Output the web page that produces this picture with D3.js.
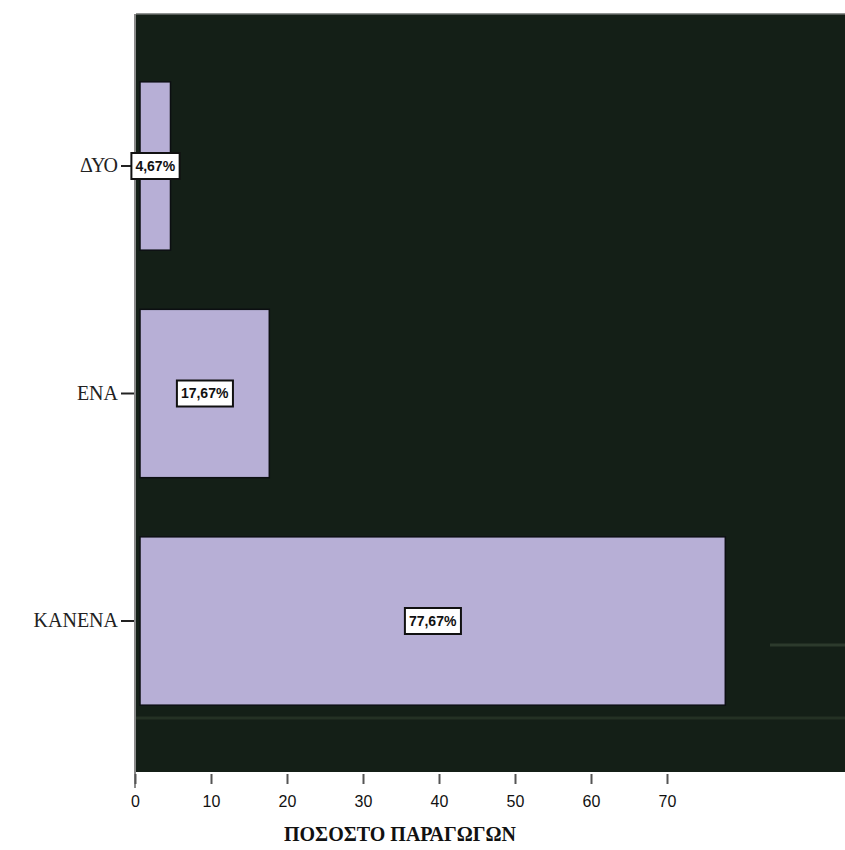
<!DOCTYPE html>
<html>
<head>
<meta charset="utf-8">
<script src="https://cdn.jsdelivr.net/npm/d3@7"></script>
<style>
  html, body { margin: 0; padding: 0; background: #ffffff; }
  svg { display: block; }
</style>
</head>
<body>
<svg id="chart" width="845" height="850"></svg>
<script>
const categories = ["ΔΥΟ", "ENA", "KANENA"];
const values = [4.67, 17.67, 77.67];
const valueLabels = ["4,67%", "17,67%", "77,67%"];
const xTicks = [0, 10, 20, 30, 40, 50, 60, 70];
const xTitle = "ΠΟΣΟΣΤΟ ΠΑΡΑΓΩΓΩΝ";

const svg = d3.select("#chart");
const plot = { left: 136, top: 14, right: 845, bottom: 772 };

const x = d3.scaleLinear().domain([0, 10]).range([135, 211]);
const y = d3.scaleBand().domain(categories).range([52.25, 734.75])
  .paddingInner(0.26).paddingOuter(0.13);

// plot background
svg.append("rect")
  .attr("x", plot.left).attr("y", plot.top)
  .attr("width", plot.right - plot.left).attr("height", plot.bottom - plot.top)
  .attr("fill", "#141f17");
svg.append("line")
  .attr("x1", plot.left).attr("x2", plot.right)
  .attr("y1", plot.top).attr("y2", plot.top)
  .attr("stroke", "#6d716e").attr("stroke-width", 1.5);

// faint scan stripes
svg.append("line")
  .attr("x1", 770).attr("x2", plot.right).attr("y1", 645).attr("y2", 645)
  .attr("stroke", "#2c3a2c").attr("stroke-width", 3);
svg.append("line")
  .attr("x1", plot.left).attr("x2", plot.right).attr("y1", 718).attr("y2", 718)
  .attr("stroke", "#243124").attr("stroke-width", 3);

// bars
svg.selectAll("rect.bar").data(values).join("rect")
  .attr("class", "bar")
  .attr("x", x(0) + 5)
  .attr("y", (d, i) => y(categories[i]))
  .attr("width", d => x(d) - x(0) - 5)
  .attr("height", y.bandwidth())
  .attr("fill", "#b7afd6")
  .attr("stroke", "#0c0f12").attr("stroke-width", 1.5);

// left axis
const yAxis = d3.axisLeft(y).tickSize(14).tickPadding(3);
const ga = svg.append("g").attr("transform", `translate(${x(0)},0)`).call(yAxis);
ga.select(".domain").remove();
ga.selectAll(".tick line").attr("stroke", "#222").attr("stroke-width", 2);
ga.selectAll(".tick text")
  .attr("font-family", "'Liberation Serif', 'DejaVu Serif', serif")
  .attr("font-size", 20).attr("fill", "#222");
svg.append("line")
  .attr("x1", x(0)).attr("x2", x(0))
  .attr("y1", plot.top).attr("y2", 788)
  .attr("stroke", "#8a8a8a").attr("stroke-width", 2);

// bottom axis
const xAxis = d3.axisBottom(x).tickValues(xTicks).tickSize(10).tickPadding(12)
  .tickFormat(d3.format("d"));
const gx = svg.append("g").attr("transform", `translate(0,${plot.bottom + 2})`).call(xAxis);
gx.select(".domain").remove();
gx.selectAll(".tick line").attr("stroke", "#555").attr("stroke-width", 2);
gx.selectAll(".tick text")
  .attr("font-family", "'Liberation Sans', Arial, sans-serif")
  .attr("font-size", 16).attr("fill", "#111");

// axis title
svg.append("text")
  .attr("x", 400).attr("y", 841)
  .attr("text-anchor", "middle")
  .attr("font-family", "'Liberation Serif', 'DejaVu Serif', serif")
  .attr("font-weight", "bold").attr("font-size", 20).attr("fill", "#111")
  .text(xTitle);

// value labels
const lg = svg.selectAll("g.vlabel").data(values).join("g")
  .attr("class", "vlabel")
  .attr("transform", (d, i) =>
    `translate(${(x(0) + 5 + x(d)) / 2},${y(categories[i]) + y.bandwidth() / 2})`);
lg.append("text")
  .attr("text-anchor", "middle").attr("dy", "0.35em")
  .attr("font-family", "'Liberation Sans', Arial, sans-serif")
  .attr("font-weight", "bold").attr("font-size", 14).attr("fill", "#111")
  .text((d, i) => valueLabels[i]);
lg.each(function() {
  const g = d3.select(this);
  const b = g.select("text").node().getBBox();
  g.insert("rect", "text")
    .attr("x", b.x - 4).attr("y", -13)
    .attr("width", b.width + 8).attr("height", 26)
    .attr("fill", "#ffffff").attr("stroke", "#111").attr("stroke-width", 2);
});
</script>
</body>
</html>
